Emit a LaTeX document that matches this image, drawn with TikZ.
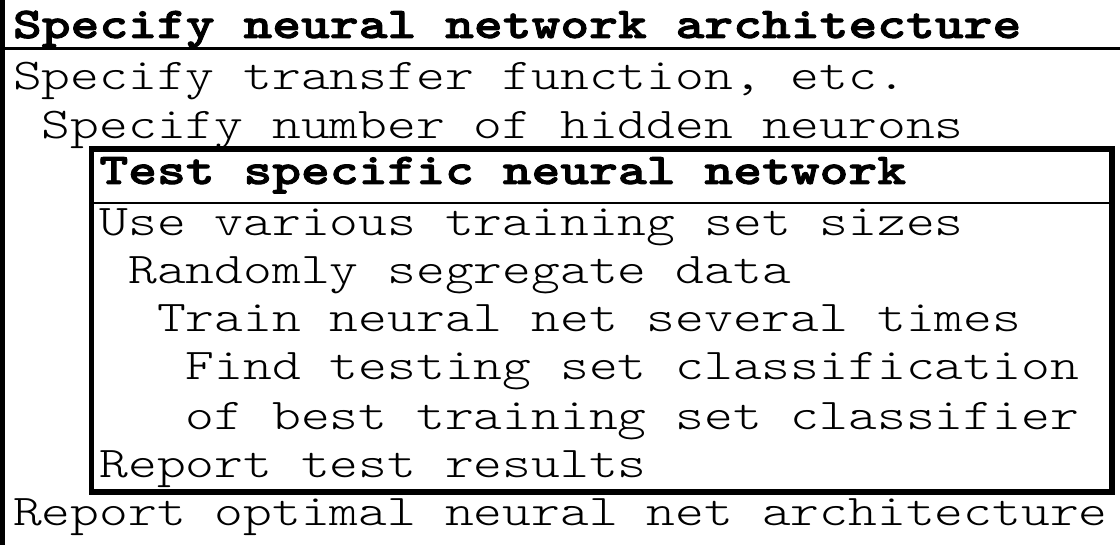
\documentclass[tikz,border=0pt]{standalone}
\usepackage{fontspec}
\newfontfamily\reftt{lmmonolt10-regular.otf}[FakeStretch=1.25]
\newfontfamily\refttb{lmmonolt10-bold.otf}[FakeStretch=1.25,FakeBold=2]
\begin{document}
\begin{tikzpicture}[x=1pt,y=-1pt,
  txt/.style={anchor=base west, inner sep=0pt, outer sep=0pt, font=\fontsize{43.9}{45}\selectfont\reftt},
  ttl/.style={txt, font=\fontsize{43.9}{45}\selectfont\refttb},
  thickrule/.style={line width=5pt, line cap=butt},
  boxrule/.style={line width=5.5pt},
  seprule/.style={line width=2.5pt}]
\useasboundingbox (0,0) rectangle (1120,545);
\def\xo{13}
\def\cw{28.8}
% outer frame
\coordinate (otop) at (2.5,0);
\coordinate (obot) at (2.5,545);
\coordinate (sepl) at (2.5,49);
\coordinate (sepr) at (1120,49);
\draw[thickrule] (otop) -- (obot);
\draw[line width=3pt] (sepl) -- (sepr);
% inner box
\coordinate (ibl) at (91.5,149);
\coordinate (ibr) at (1112,492);
\draw[boxrule] (ibl) rectangle (ibr);
\coordinate (isl) at (91.5,203);
\coordinate (isr) at (1112,203);
\draw[seprule] (isl) -- (isr);
% text
\node[ttl] (l1) at (\xo,38) {Specify neural network architecture};
\node[txt] (l2) at (\xo,90) {Specify transfer function, etc.};
\node[txt] (l3) at (\xo+\cw,139) {Specify number of hidden neurons};
\node[ttl] (l4) at (\xo+3*\cw,184) {Test specific neural network};
\node[txt] (l5) at (\xo+3*\cw,236) {Use various training set sizes};
\node[txt] (l6) at (\xo+4*\cw,284) {Randomly segregate data};
\node[txt] (l7) at (\xo+5*\cw,332) {Train neural net several times};
\node[txt] (l8) at (\xo+6*\cw,380) {Find testing set classification};
\node[txt] (l9) at (\xo+6*\cw,429) {of best training set classifier};
\node[txt] (l10) at (\xo+3*\cw,477) {Report test results};
\node[txt] (l11) at (\xo,525) {Report optimal neural net architecture};
\end{tikzpicture}
\end{document}
